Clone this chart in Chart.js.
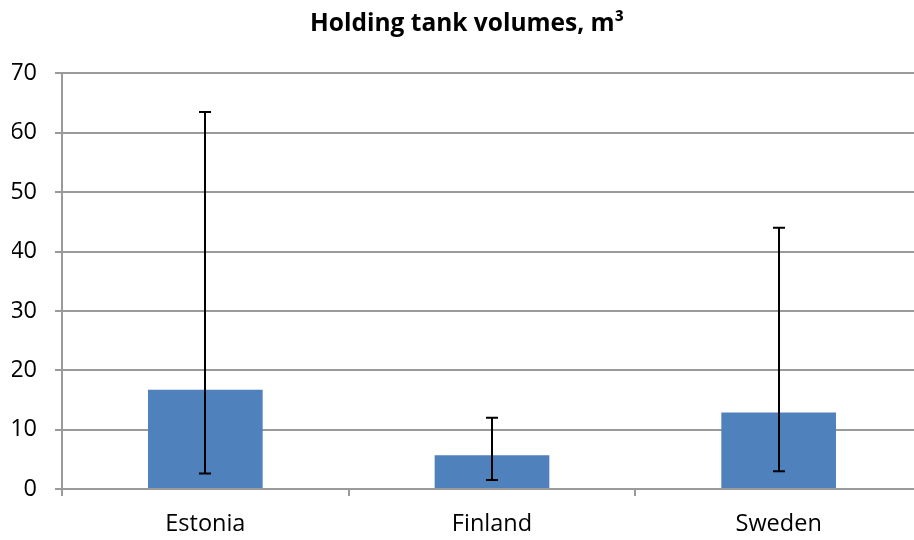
<!DOCTYPE html>
<html>
<head>
<meta charset="utf-8">
<script src="https://cdn.jsdelivr.net/npm/chart.js@4.4.1/dist/chart.umd.min.js"></script>
<style>
  html, body { margin: 0; padding: 0; background: #fff; overflow: hidden; }
  #wrap { width: 914px; height: 540px; overflow: hidden; }
</style>
</head>
<body>
<div id="wrap"><canvas id="grafico" width="922" height="540"></canvas></div>
<script>
// dados
const paises = ['Estonia', 'Finland', 'Sweden'];
const volumes = [16.7, 5.7, 12.9];
const erroMin = [2.6, 1.5, 3.0];
const erroMax = [63.5, 12.0, 44.0];
const ticksY = [0, 10, 20, 30, 40, 50, 60, 70];

const cinza = '#9a9a9a';

// barras de erro desenhadas com as escalas do próprio Chart.js
const barrasDeErro = {
    id: 'barrasDeErro',
    afterDatasetsDraw(chart) {
        const ctx = chart.ctx;
        const x = chart.scales.x;
        const y = chart.scales.y;
        ctx.save();
        ctx.strokeStyle = '#000';
        ctx.lineWidth = 2;
        paises.forEach((p, i) => {
            const cx = Math.round(x.getPixelForValue(i));
            const yMin = y.getPixelForValue(erroMin[i]);
            const yMax = y.getPixelForValue(erroMax[i]);
            ctx.beginPath();
            ctx.moveTo(cx, yMin);
            ctx.lineTo(cx, yMax);
            ctx.moveTo(cx - 6, yMin);
            ctx.lineTo(cx + 6, yMin);
            ctx.moveTo(cx - 6, yMax);
            ctx.lineTo(cx + 6, yMax);
            ctx.stroke();
        });
        ctx.restore();
    }
};

new Chart(document.getElementById('grafico').getContext('2d'), {
    type: 'bar',
    data: {
        labels: paises,
        datasets: [{
            label: 'Volume',
            data: volumes,
            backgroundColor: '#4f81bd',
            borderWidth: 0,
            barPercentage: 0.4,
            categoryPercentage: 1.0
        }]
    },
    options: {
        responsive: false,
        animation: false,
        layout: { padding: { left: 12, right: 0, top: 0, bottom: 0 } },
        plugins: {
            legend: { display: false },
            tooltip: { enabled: false },
            title: {
                display: true,
                text: 'Holding tank volumes, m³',
                color: '#000',
                font: { family: 'Open Sans', size: 24.5, weight: 'bold' },
                padding: { top: 9, bottom: 35 }
            }
        },
        scales: {
            x: {
                grid: {
                    offset: true,
                    drawOnChartArea: false,
                    drawTicks: true,
                    tickLength: 7,
                    color: cinza,
                    lineWidth: 2
                },
                border: { display: true, color: cinza, width: 2 },
                ticks: {
                    color: '#000',
                    padding: 14,
                    font: { family: 'Open Sans', size: 23.5 }
                },
                afterFit(scale) { scale.height = 51; }
            },
            y: {
                min: 0,
                max: 70,
                afterBuildTicks(scale) { scale.ticks = ticksY.map(v => ({ value: v })); },
                grid: {
                    color: cinza,
                    lineWidth: 2,
                    tickLength: 7
                },
                border: { display: true, color: cinza, width: 2 },
                ticks: {
                    color: '#000',
                    padding: 18,
                    font: { family: 'Open Sans', size: 23.5 }
                },
                afterFit(scale) { scale.width = 50; }
            }
        }
    },
    plugins: [barrasDeErro]
});
</script>
</body>
</html>
